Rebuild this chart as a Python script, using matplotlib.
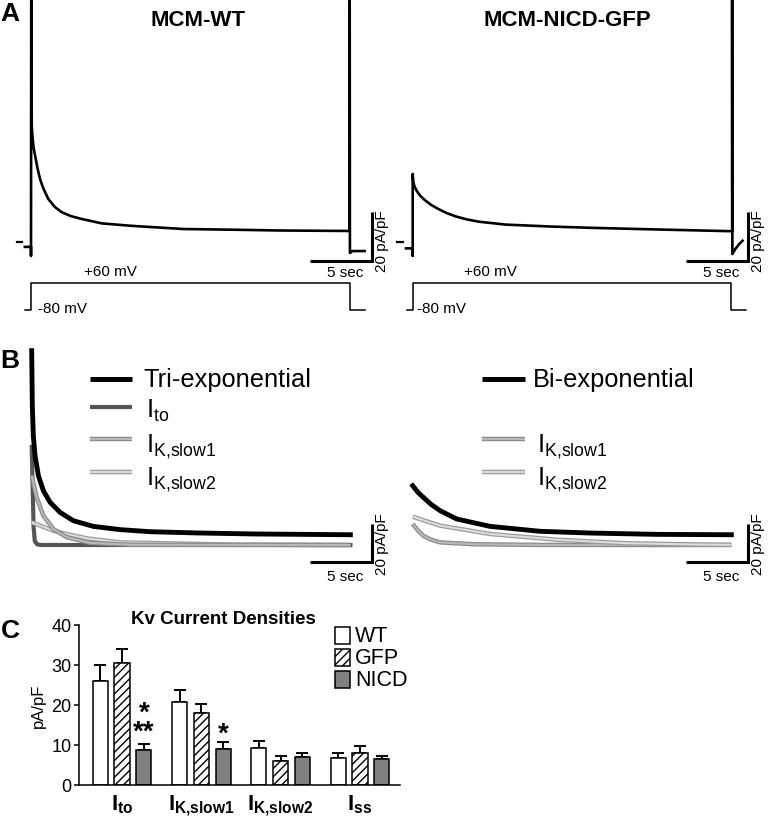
import numpy as np
import matplotlib.pyplot as plt
from matplotlib.patches import Rectangle

plt.rcParams['font.family'] = ['Liberation Sans', 'DejaVu Sans']
plt.rcParams['mathtext.fontset'] = 'custom'
plt.rcParams['mathtext.rm'] = 'Liberation Sans'
plt.rcParams['mathtext.bf'] = 'Liberation Sans:bold'
plt.rcParams['hatch.linewidth'] = 1.0

W, H = 772, 820

# ---- A: recorded currents (s, pA/pF) ----
wt_t = [-0.5, 0, 0, 0.02, 0.06, 0.12, 0.19, 0.28, 0.38, 0.52, 0.73, 1.0, 1.39, 1.9,
        2.47, 3.2, 4.09, 5.7, 8.1, 12.3, 16.5, 20.0, 25.7, 25.7, 25.72, 25.9, 26.9]
wt_i = [-2.0, -2.0, -5.7, 110, 47.5, 43.0, 39.3, 36.5, 34.0, 30.2, 25.7, 21.8, 17.6, 14.4,
        12.2, 10.6, 9.4, 7.6, 6.6, 5.3, 5.0, 4.7, 4.5, 110, -4.5, -3.7, -3.7]
nicd_t = [-0.54, 0, 0, 0, 0.05, 0.15, 0.32, 0.6, 1.0, 1.5, 2.06, 2.7, 3.44, 4.3, 5.32,
          7.5, 11.2, 14.3, 19.0, 25.76, 25.76, 25.78, 26.0, 26.3, 26.6]
nicd_i = [-2.6, -2.6, -5.6, 27.8, 24.4, 22.6, 20.9, 18.9, 17.0, 15.1, 13.5, 11.9, 10.5,
          9.3, 8.3, 7.1, 6.3, 5.8, 5.2, 4.4, 110, -4.9, -3.0, -1.0, 0.5]

# voltage protocol (s, mV)
step_t = [-0.5, 0, 0, 25.7, 25.7, 26.9]
step_v = [-80, -80, 60, 60, -80, -80]

# ---- B: fitted components (s, pA/pF) ----
tri_t = [0, 0.05, 0.13, 0.27, 0.54, 0.94, 1.48, 2.28, 3.35, 4.97, 7.12, 9.54, 13.6, 18.0, 25.7]
tri_i = [102.3, 73.3, 57.5, 47.0, 36.5, 28.6, 22.5, 17.2, 12.8, 9.8, 8.1, 7.0, 6.3, 5.8, 5.4]
ito_t = [0, 0.08, 0.15, 0.25, 0.45, 0.8, 25.7]
ito_i = [51.6, 30, 10, 2, 0.3, 0, 0]
slow1_t = [0, 0.4, 0.94, 1.75, 2.82, 4.7, 8.2, 25.7]
slow1_i = [36.5, 25.1, 15.4, 8.4, 4.1, 1.1, 0.1, 0]
slow2_t = [0, 1.74, 2.8, 4.44, 7.12, 16.2, 25.7]
slow2_i = [11.9, 7.5, 5.8, 3.5, 1.4, 0.2, 0]

bi_t = [0, 0.4, 0.85, 1.5, 2.2, 3.54, 6.24, 10.3, 14.3, 19.7, 25.7]
bi_i = [31.2, 27.9, 25.1, 21.3, 18.1, 13.7, 9.8, 7.2, 6.3, 5.6, 5.4]
bslow1_t = [0, 0.4, 0.85, 1.4, 2.2, 4.9, 10, 25.7]
bslow1_i = [11.1, 7.8, 4.9, 3.0, 1.4, 0.4, 0.05, 0]
bslow2_t = [0, 2.2, 6.24, 11.6, 17.0, 22.4, 25.7]
bslow2_i = [14.9, 10.2, 5.8, 2.8, 1.0, 0.3, 0.1]

# ---- C: current densities ----
cats = [r'$\mathbf{I}_{\mathbf{to}}$', r'$\mathbf{I}_{\mathbf{K{,}slow1}}$',
        r'$\mathbf{I}_{\mathbf{K{,}slow2}}$', r'$\mathbf{I}_{\mathbf{ss}}$']
wt = [26.1, 20.8, 9.25, 6.75]
wt_err = [4.0, 2.95, 1.65, 1.25]
gfp = [30.4, 18.0, 6.1, 7.9]
gfp_err = [3.6, 2.25, 1.1, 1.9]
nicd = [8.75, 8.9, 7.1, 6.6]
nicd_err = [1.5, 1.9, 0.8, 0.7]
stars = [(0, '*\n**', 11.6), (1, '*', 11.0)]

fig = plt.figure(figsize=(W / 100, H / 100), dpi=100)


def px_axes(x0, y0, x1, y1):
    return fig.add_axes([x0 / W, 1 - y1 / H, (x1 - x0) / W, (y1 - y0) / H])


def trace_axes(x0, y0, x1, y1, ox, oy, sx, sy):
    ax = px_axes(x0, y0, x1, y1)
    ax.set_xlim((x0 - ox) / sx, (x1 - ox) / sx)
    ax.set_ylim((oy - y1) / sy, (oy - y0) / sy)
    ax.axis('off')
    return ax


def scale_bar(ax, t_end, i0):
    ax.plot([t_end - 5, t_end, t_end], [i0, i0, i0 + 20], color='black', lw=2.2,
            solid_joinstyle='miter', solid_capstyle='butt', clip_on=False)


def double_line(ax, x, y, outer, inner):
    ax.plot(x, y, color=outer, lw=3.2, solid_capstyle='butt')
    ax.plot(x, y, color=inner, lw=1.5, solid_capstyle='butt')


S1 = ('#8a8a8a', '#b8b8b8')
S2 = ('#9a9a9a', '#dcdcdc')

# panel A
for (x0, x1, ox, xbar, tt, ii, z0) in [(0, 390, 31, 372, wt_t, wt_i, (-1.13, -0.73)),
                                        (390, 772, 412.7, 748, nicd_t, nicd_i, (-1.27, -0.78))]:
    ax = trace_axes(x0, 0, x1, 280, ox, 243, 12.4, 2.45)
    ax.plot(tt, ii, color='black', lw=1.9)
    ax.plot(z0, [0, 0], color='black', lw=1.6)
    scale_bar(ax, (xbar - ox) / 12.4, -7.8)
    axp = trace_axes(x0, 278, x1, 320, ox, 295.57, 12.4, 27 / 140)
    axp.plot(step_t, step_v, color='black', lw=1.1)

# panel B
axl = trace_axes(0, 330, 390, 580, 31.7, 546, 12.4, 1.9)
axl.plot(ito_t, ito_i, color='#555555', lw=3.0)
double_line(axl, slow2_t, slow2_i, *S2)
double_line(axl, slow1_t, slow1_i, *S1)
axl.plot(tri_t, tri_i, color='black', lw=3.5)
scale_bar(axl, (372 - 31.7) / 12.4, -8.9)

axr = trace_axes(390, 330, 772, 580, 412.7, 546, 12.4, 1.9)
double_line(axr, bslow1_t, bslow1_i, *S1)
double_line(axr, bslow2_t, bslow2_i, *S2)
axr.plot(bi_t, bi_i, color='black', lw=3.5)
scale_bar(axr, (748 - 412.7) / 12.4, -8.9)

# panel C
axc = px_axes(79, 626, 400, 786)
x = np.arange(len(cats))
off, bw = 0.275, 0.19
zero = np.zeros(len(cats))
axc.bar(x - off, wt, bw, color='white', edgecolor='black', lw=1.1, zorder=2)
axc.bar(x, gfp, bw, color='white', edgecolor='black', hatch='////', lw=1.1, zorder=2)
axc.bar(x + off, nicd, bw, color='#808080', edgecolor='black', lw=1.1, zorder=2)
for xs, v, e in [(x - off, wt, wt_err), (x, gfp, gfp_err), (x + off, nicd, nicd_err)]:
    axc.errorbar(xs, v, yerr=[zero, e], fmt='none', ecolor='black', elinewidth=1.4,
                 capsize=4, capthick=1.4, zorder=1)
for g, s, yv in stars:
    axc.text(g + off, yv, s, ha='center', va='baseline', fontsize=20, weight='bold',
             linespacing=0.66, multialignment='center')
axc.set_xlim(-0.542, 3.504)
axc.set_ylim(0, 40)
axc.set_yticks([0, 10, 20, 30, 40])
axc.set_xticks(x)
axc.set_xticklabels(cats)
for s in ('top', 'right'):
    axc.spines[s].set_visible(False)
for s in ('left', 'bottom'):
    axc.spines[s].set_linewidth(1.1)
axc.tick_params(axis='y', length=3.5, width=1.1, labelsize=13, pad=2)
axc.tick_params(axis='x', length=0, labelsize=16, pad=5)
axc.set_ylabel('pA/pF', fontsize=12, labelpad=4)

# overlay for labels and legends (pixel coordinates)
ov = fig.add_axes([0, 0, 1, 1])
ov.set_xlim(0, W)
ov.set_ylim(H, 0)
ov.axis('off')

for lab, yy in [('A', 14), ('B', 361), ('C', 631)]:
    ov.text(10, yy, lab, ha='center', va='center', fontsize=19, weight='bold')
ov.text(198, 21, 'MCM-WT', ha='center', va='center', fontsize=16, weight='bold')
ov.text(567, 21, 'MCM-NICD-GFP', ha='center', va='center', fontsize=16, weight='bold')

for xs, xv in [(345, 382), (721, 758)]:
    ov.text(xs, 273, '5 sec', ha='center', va='center', fontsize=11)
    ov.text(xv, 241, '20 pA/pF', rotation=90, ha='center', va='center', fontsize=11)
    ov.text(xs, 577, '5 sec', ha='center', va='center', fontsize=11)
    ov.text(xv, 544, '20 pA/pF', rotation=90, ha='center', va='center', fontsize=11)

for xp, xm in [(110, 38), (490, 417)]:
    ov.text(xp, 272, '+60 mV', ha='center', va='center', fontsize=11)
    ov.text(xm, 309, '-80 mV', ha='left', va='center', fontsize=11)

# B legends
LF = 18.3
ov.plot([90, 132], [380, 380], color='black', lw=3.6, solid_capstyle='butt')
ov.text(143, 387, 'Tri-exponential', ha='left', va='baseline', fontsize=LF)
ov.plot([90, 132], [408, 408], color='#555555', lw=3.0, solid_capstyle='butt')
ov.text(146, 418, r'$\mathrm{I}_{\mathrm{to}}$', ha='left', va='baseline', fontsize=LF)
double_line(ov, [90, 132], [440, 440], *S1)
ov.text(146, 452, r'$\mathrm{I}_{\mathrm{K{,}slow1}}$', ha='left', va='baseline', fontsize=LF)
double_line(ov, [90, 132], [473, 473], *S2)
ov.text(146, 485, r'$\mathrm{I}_{\mathrm{K{,}slow2}}$', ha='left', va='baseline', fontsize=LF)

ov.plot([482, 525], [380, 380], color='black', lw=3.6, solid_capstyle='butt')
ov.text(533, 387, 'Bi-exponential', ha='left', va='baseline', fontsize=LF)
double_line(ov, [482, 525], [440, 440], *S1)
ov.text(537, 452, r'$\mathrm{I}_{\mathrm{K{,}slow1}}$', ha='left', va='baseline', fontsize=LF)
double_line(ov, [482, 525], [473, 473], *S2)
ov.text(537, 485, r'$\mathrm{I}_{\mathrm{K{,}slow2}}$', ha='left', va='baseline', fontsize=LF)

# C title and legend
ov.text(223, 620, 'Kv Current Densities', ha='center', va='center', fontsize=13.5, weight='bold')
for lab, yy, fc, hat in [('WT', 628, 'white', None), ('GFP', 650, 'white', '////'),
                         ('NICD', 672, '#808080', None)]:
    ov.add_patch(Rectangle((335, yy), 15, 17, facecolor=fc, edgecolor='black',
                           lw=1.1, hatch=hat))
    ov.text(355, yy + 9, lab, ha='left', va='center', fontsize=15.5)

fig.savefig('out.png', dpi=100)
